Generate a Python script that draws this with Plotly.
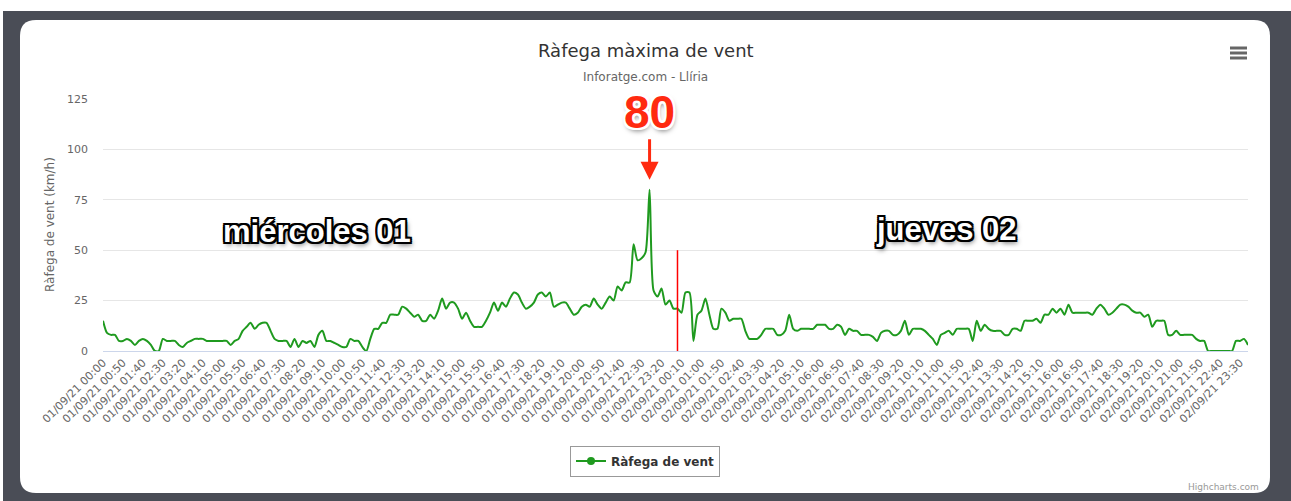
import pandas as pd
import plotly.graph_objects as go

# ---------------- data ----------------
categories = list(pd.date_range("2021-09-01 00:00", periods=288, freq="10min").strftime("%d/%m/%y %H:%M"))

gust_day1 = [
    15, 9, 8, 8, 5, 5, 6, 5, 3, 5, 6, 5, 3, 0, 0, 6, 5, 5, 5, 3,
    2, 4, 5, 6, 6, 6, 5, 5, 5, 5, 5, 5, 3, 5, 6, 10, 12, 14, 11, 13,
    14, 14, 10, 6, 5, 5, 5, 2, 6, 2, 5, 4, 5, 2, 8, 10, 5, 5, 4, 3,
    2, 2, 6, 5, 5, 2, 0, 6, 11, 11, 14, 14, 18, 18, 18, 22, 21, 19, 17, 18,
    15, 15, 18, 16, 20, 26, 21, 24, 24, 21, 16, 19, 15, 12, 12, 12, 15, 19, 24, 20,
    24, 22, 26, 29, 28, 24, 21, 22, 24, 28, 29, 27, 29, 22, 23, 24, 24, 21, 18, 19,
    22, 23, 22, 26, 23, 21, 24, 27, 25, 32, 30, 34, 34, 53, 45, 46, 49, 80, 30, 27,
    31, 23, 25, 21,
]
gust_day2 = [
    21, 19, 29, 29, 5, 18, 20, 26, 18, 11, 11, 21, 19, 15, 16, 16, 16, 10, 6, 6,
    6, 8, 11, 11, 11, 8, 8, 10, 18, 11, 10, 11, 11, 11, 11, 13, 13, 13, 11, 11,
    13, 12, 8, 11, 10, 10, 8, 8, 8, 7, 5, 9, 10, 10, 8, 8, 10, 15, 8, 11,
    11, 11, 10, 8, 6, 3, 8, 9, 10, 8, 11, 11, 11, 11, 5, 15, 10, 13, 11, 10,
    10, 10, 8, 8, 11, 11, 10, 15, 15, 15, 16, 14, 18, 18, 21, 19, 21, 18, 23, 19,
    19, 19, 19, 19, 18, 21, 23, 21, 18, 19, 21, 23, 23, 22, 20, 19, 19, 17, 18, 12,
    15, 15, 15, 8, 8, 10, 8, 8, 8, 8, 6, 5, 5, 0, 0, 0, 0, 0, 0, 0,
    5, 5, 6, 3,
]
gust = gust_day1 + gust_day2

tick_step = 5
tick_vals = categories[::tick_step]
tick_text = categories[::tick_step]

day_labels = ["miércoles 01", "jueves 02"]
peak_value = 80
peak_category = categories[gust.index(peak_value)]
midnight_category = "02/09/21 00:00"
midnight_line_top = 50

title_text = "Ràfega màxima de vent"
subtitle_text = "Inforatge.com - Llíria"
series_name = "Ràfega de vent"
y_title = "Ràfega de vent (km/h)"

# ---------------- geometry helpers (pixel -> paper) ----------------
W, H = 1291, 501
PL, PR, PT, PB = 103, 1248, 99, 351


def xp(px):
    return (px - PL) / (PR - PL)


def yp(py):
    return (PB - py) / (PB - PT)


GREEN = "#1f9a1f"
FONT = "DejaVu Sans"

fig = go.Figure()
fig.add_trace(go.Scatter(
    x=categories, y=gust, mode="lines", name=series_name,
    line=dict(color=GREEN, width=2, shape="spline", smoothing=0.7),
    showlegend=False, hoverinfo="x+y",
))
# legend entry (line + marker, like Highcharts)
fig.add_trace(go.Scatter(
    x=[None], y=[None], mode="lines+markers", name=series_name,
    line=dict(color=GREEN, width=2), marker=dict(color=GREEN, size=8),
))

shapes = []
# dark frame
shapes.append(dict(type="rect", xref="paper", yref="paper",
                   x0=xp(3), x1=xp(W), y0=yp(11), y1=yp(H),
                   fillcolor="#4a4d56", line=dict(width=0), layer="below"))
# white rounded card
x0, x1, y0, y1, r = 20, 1270, 20, 493, 16
pts = [
    ("M", [(x0 + r, y0)]), ("L", [(x1 - r, y0)]), ("Q", [(x1, y0), (x1, y0 + r)]),
    ("L", [(x1, y1 - r)]), ("Q", [(x1, y1), (x1 - r, y1)]), ("L", [(x0 + r, y1)]),
    ("Q", [(x0, y1), (x0, y1 - r)]), ("L", [(x0, y0 + r)]), ("Q", [(x0, y0), (x0 + r, y0)]),
]
path = " ".join(cmd + " " + " ".join(f"{xp(a):.5f},{yp(b):.5f}" for a, b in p) for cmd, p in pts) + " Z"
shapes.append(dict(type="path", xref="paper", yref="paper", path=path,
                   fillcolor="white", line=dict(width=0), layer="below"))
# hamburger menu icon
for ly in (48, 53, 58):
    shapes.append(dict(type="line", xref="paper", yref="paper",
                       x0=xp(1230), x1=xp(1247), y0=yp(ly), y1=yp(ly),
                       line=dict(color="#666666", width=3)))
# red midnight line
shapes.append(dict(type="line", xref="x", yref="y",
                   x0=midnight_category, x1=midnight_category, y0=0, y1=midnight_line_top,
                   line=dict(color="#ff0000", width=1.5), layer="above"))

outline_black = ", ".join(f"{dx}px {dy}px 0 #000" for dx in (-2, 0, 2) for dy in (-2, 0, 2) if (dx, dy) != (0, 0)) + ", 2px 3px 5px rgba(0,0,0,0.6)"
outline_white = ", ".join(f"{dx}px {dy}px 0 #fff" for dx in (-2, 0, 2) for dy in (-2, 0, 2) if (dx, dy) != (0, 0)) + ", 1px 3px 5px rgba(0,0,0,0.5)"

annotations = [
    dict(text=title_text, xref="paper", yref="paper", x=xp(645.5), y=yp(50),
         showarrow=False, font=dict(family=FONT, size=18, color="#333333"),
         xanchor="center", yanchor="middle"),
    dict(text=subtitle_text, xref="paper", yref="paper", x=xp(645.5), y=yp(77),
         showarrow=False, font=dict(family=FONT, size=12, color="#666666"),
         xanchor="center", yanchor="middle"),
    dict(text=y_title, xref="paper", yref="paper", x=xp(50), y=yp(225), textangle=-90,
         showarrow=False, font=dict(family=FONT, size=12, color="#666666"),
         xanchor="center", yanchor="middle"),
    dict(text="Highcharts.com", xref="paper", yref="paper", x=xp(1261), y=yp(487),
         showarrow=False, font=dict(family=FONT, size=9, color="#999999"),
         xanchor="right", yanchor="middle"),
    dict(text=day_labels[0], xref="paper", yref="paper", x=xp(317), y=yp(231),
         showarrow=False, font=dict(family="Liberation Sans", size=31, color="white",
                                    weight="bold", shadow=outline_black),
         xanchor="center", yanchor="middle"),
    dict(text=day_labels[1], xref="paper", yref="paper", x=xp(946), y=yp(229),
         showarrow=False, font=dict(family="Liberation Sans", size=31, color="white",
                                    weight="bold", shadow=outline_black),
         xanchor="center", yanchor="middle"),
    dict(text=str(peak_value), xref="x", yref="y", x=peak_category, y=peak_value + 5,
         showarrow=True, ax=0, ay=-68, arrowcolor="#ff2a10", arrowwidth=3,
         arrowhead=2, arrowsize=1.2, standoff=0,
         font=dict(family="Liberation Sans", size=46, color="#ff2a10",
                   weight="bold", shadow=outline_white)),
]

fig.update_layout(
    width=W, height=H,
    margin=dict(l=PL, r=W - PR, t=PT, b=H - PB, autoexpand=False),
    paper_bgcolor="white", plot_bgcolor="rgba(0,0,0,0)",
    font=dict(family=FONT, color="#666666"),
    shapes=shapes, annotations=annotations,
    showlegend=True,
    legend=dict(orientation="h", x=xp(645), xanchor="center", y=yp(461), yanchor="middle",
                bordercolor="#999999", borderwidth=1, bgcolor="white",
                font=dict(family=FONT, size=12, color="#333333", weight="bold"),
                itemwidth=30),
    xaxis=dict(type="category", categoryorder="array", categoryarray=categories,
               range=[0, len(categories) - 1],
               tickmode="array", tickvals=tick_vals, ticktext=tick_text, tickangle=-45,
               tickfont=dict(family=FONT, size=11, color="#666666"),
               showgrid=False, showline=True, linecolor="#ccd6eb", linewidth=1,
               zeroline=False, ticks=""),
    yaxis=dict(range=[0, 125], dtick=25, tick0=0,
               tickfont=dict(family=FONT, size=11, color="#666666"),
               gridcolor="#e6e6e6", gridwidth=1, zeroline=False, showline=False,
               ticklabelstandoff=14),
)

fig.write_html("out.html", config={"displayModeBar": False},
               post_script="document.body.style.margin='0';document.body.style.overflow='hidden';")
